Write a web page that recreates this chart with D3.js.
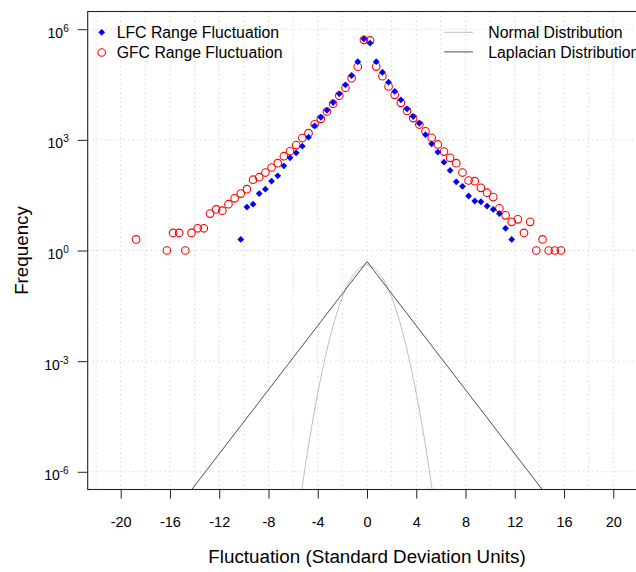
<!DOCTYPE html>
<html>
<head>
<meta charset="utf-8">
<script src="https://cdn.jsdelivr.net/npm/d3@7"></script>
<style>
  html, body { margin: 0; padding: 0; background: #fff; }
  svg { display: block; font-family: "Liberation Sans", Arial, Helvetica, sans-serif; }
</style>
</head>
<body>
<svg id="chart" width="636" height="572"></svg>
<script>
// ---------- data ----------
const lfcX = [-10.25,-9.75,-9.25,-8.75,-8.25,-7.75,-7.25,-6.75,-6.25,-5.75,-5.25,-4.75,-4.25,-3.75,-3.25,-2.75,-2.25,-1.75,-1.25,-0.75,-0.25,
              0.25,0.75,1.25,1.75,2.25,2.75,3.25,3.75,4.25,4.75,5.25,5.75,6.25,6.75,7.25,7.75,8.25,8.75,9.25,9.75,10.25,10.75,11.25,11.75];
const lfcY = [2,15,18,35,46,76,106,198,325,445,675,1180,2400,4100,6300,10300,17700,31000,55600,131000,550000,
              420000,132000,68000,36600,20500,12200,6900,4300,2800,1380,780,465,248,148,73,55,30,22,21,16,13,10,4,2];

const gfcX = [-18.75,-16.25,-15.75,-15.25,-14.75,-14.25,-13.75,-13.25,-12.75,-12.25,-11.75,-11.25,-10.75,-10.25,-9.75,-9.25,-8.75,-8.25,
              -7.75,-7.25,-6.75,-6.25,-5.75,-5.25,-4.75,-4.25,-3.75,-3.25,-2.75,-2.25,-1.75,-1.25,-0.75,-0.25,
              0.25,0.75,1.25,1.75,2.25,2.75,3.25,3.75,4.25,4.75,5.25,5.75,6.25,6.75,7.25,7.75,8.25,8.75,9.25,9.75,10.25,
              10.75,11.25,11.75,12.25,12.75,13.25,13.75,14.25,14.75,15.25,15.75];
const gfcY = [2,1,3,3,1,3,4,4,10,13,12,18,26,35,46,83,97,130,
              178,233,360,490,720,1120,1520,2650,3720,5880,9500,15800,25800,47000,96000,515000,
              495000,97000,53000,28000,16600,10100,6100,3900,2600,1710,1140,750,480,325,233,130,79,76,50,37,28,
              14,9,6,7,3,6,1,2,1,1,1];

// reference curves (standard normal and Laplace(0,1) densities, tabulated)
const normalX = [-6,-5.5,-5,-4.5,-4,-3.5,-3,-2.5,-2,-1.5,-1,-0.5,0,0.5,1,1.5,2,2.5,3,3.5,4,4.5,5,5.5,6];
const normalY = [6.076e-9,1.078e-7,1.487e-6,1.598e-5,1.338e-4,8.727e-4,4.432e-3,1.753e-2,5.399e-2,0.1295,0.2420,0.3521,0.3989,
                 0.3521,0.2420,0.1295,5.399e-2,1.753e-2,4.432e-3,8.727e-4,1.338e-4,1.598e-5,1.487e-6,1.078e-7,6.076e-9];
const laplaceX = [-16, 0, 16];
const laplaceY = [5.63e-8, 0.5, 5.63e-8];

const xTicks = [-20,-16,-12,-8,-4,0,4,8,12,16,20];
const yTickExp = [-6,-3,0,3,6];
const xGrid = [-22,-20,-18,-16,-14,-12,-10,-8,-6,-4,-2,0,2,4,6,8,10,12,14,16,18,20,22];

const legendLeft = ["LFC Range Fluctuation", "GFC Range Fluctuation"];
const legendRight = ["Normal Distribution", "Laplacian Distribution"];
const xTitle = "Fluctuation (Standard Deviation Units)";
const yTitle = "Frequency";

// ---------- layout ----------
const L = 87.7, R = 646.3, T = 11.5, B = 489.5;
const svg = d3.select("#chart");

const x = d3.scaleLinear().domain([-22.68, 22.68]).range([L, R]);
const y = d3.scaleLog().domain([Math.pow(10, -6.48), Math.pow(10, 6.48)]).range([B, T]);

svg.append("defs").append("clipPath").attr("id", "clip")
  .append("rect").attr("x", L).attr("y", T).attr("width", R - L).attr("height", B - T);

// grid
const grid = svg.append("g").attr("stroke", "#d8d8d8").attr("stroke-width", 1).attr("stroke-dasharray", "1.5,3");
grid.selectAll("line.v").data(xGrid).join("line")
  .attr("x1", d => x(d)).attr("x2", d => x(d)).attr("y1", T).attr("y2", B);
grid.selectAll("line.h").data(yTickExp).join("line")
  .attr("x1", L).attr("x2", R).attr("y1", d => y(Math.pow(10, d))).attr("y2", d => y(Math.pow(10, d)));

// curves
const plot = svg.append("g").attr("clip-path", "url(#clip)");
const lineN = d3.line().x((d, i) => x(normalX[i])).y(d => y(d)).curve(d3.curveNatural);
const lineL = d3.line().x((d, i) => x(laplaceX[i])).y(d => y(d));
plot.append("path").attr("d", lineN(normalY)).attr("fill", "none").attr("stroke", "#bdbdbd").attr("stroke-width", 1);
plot.append("path").attr("d", lineL(laplaceY)).attr("fill", "none").attr("stroke", "#4f4f4f").attr("stroke-width", 1);

// points: GFC first (circles), LFC on top (diamonds)
const dr = 3.4;
const diamond = `M0,${-dr}L${dr},0L0,${dr}L${-dr},0Z`;
plot.selectAll("circle.gfc").data(gfcY).join("circle")
  .attr("cx", (d, i) => x(gfcX[i])).attr("cy", d => y(d)).attr("r", 3.8)
  .attr("fill", "none").attr("stroke", "#ff0000").attr("stroke-width", 1.1);
plot.selectAll("path.lfc").data(lfcY).join("path")
  .attr("d", diamond)
  .attr("transform", (d, i) => `translate(${x(lfcX[i])},${y(d)})`)
  .attr("fill", "#0000ff");

// box
svg.append("rect").attr("x", L).attr("y", T).attr("width", R - L).attr("height", B - T)
  .attr("fill", "none").attr("stroke", "#222").attr("stroke-width", 1.1);

// x axis
const xAxis = svg.append("g").attr("transform", `translate(0,${B})`)
  .call(d3.axisBottom(x).tickValues(xTicks).tickSize(9).tickPadding(18).tickFormat(d3.format("d")));
xAxis.select(".domain").remove();
xAxis.selectAll("line").attr("stroke", "#222");
xAxis.selectAll("text").attr("font-size", 14.5).attr("fill", "#000")
  .attr("font-family", '"Liberation Sans", Arial, sans-serif')
  .text(d => String(d).replace("-", "-"));

// y axis
const yAxis = svg.append("g").attr("transform", `translate(${L},0)`)
  .call(d3.axisLeft(y).tickValues(yTickExp.map(e => Math.pow(10, e))).tickSize(10).tickFormat(""));
yAxis.select(".domain").remove();
yAxis.selectAll("line").attr("stroke", "#222");
yAxis.selectAll(".tick").each(function(d) {
  const e = Math.round(Math.log10(d));
  const t = d3.select(this).append("text")
    .attr("x", -19).attr("y", 8).attr("text-anchor", "end")
    .attr("font-size", 14).attr("fill", "#000")
    .attr("font-family", '"Liberation Sans", Arial, sans-serif');
  t.append("tspan").text("10");
  t.append("tspan").attr("font-size", 10).attr("dy", -6).text(String(e));
});

// axis titles
svg.append("text").attr("x", x(0)).attr("y", 563).attr("text-anchor", "middle")
  .attr("font-size", 18.8).text(xTitle);
svg.append("text").attr("transform", `translate(28,${y(1)}) rotate(-90)`).attr("text-anchor", "middle")
  .attr("font-size", 18.8).text(yTitle);

// legends
const lg = svg.append("g").attr("font-size", 15.8);
lg.append("path").attr("d", diamond).attr("transform", "translate(101.7,32.3)").attr("fill", "#0000ff");
lg.append("circle").attr("cx", 101.7).attr("cy", 52.5).attr("r", 3.8).attr("fill", "none").attr("stroke", "#ff0000").attr("stroke-width", 1.1);
lg.selectAll("text.l").data(legendLeft).join("text")
  .attr("x", 116.7).attr("y", (d, i) => 32.3 + i * 20.3).attr("dy", "0.36em").text(d => d);

const lineColors = ["#bdbdbd", "#4f4f4f"];
lg.selectAll("line.r").data(legendRight).join("line")
  .attr("x1", 444).attr("x2", 473).attr("y1", (d, i) => 32.3 + i * 19.6).attr("y2", (d, i) => 32.3 + i * 19.6)
  .attr("stroke", (d, i) => lineColors[i]).attr("stroke-width", 1);
lg.selectAll("text.r").data(legendRight).join("text")
  .attr("x", 488.3).attr("y", (d, i) => 32.3 + i * 19.6).attr("dy", "0.36em").text(d => d);
</script>
</body>
</html>
